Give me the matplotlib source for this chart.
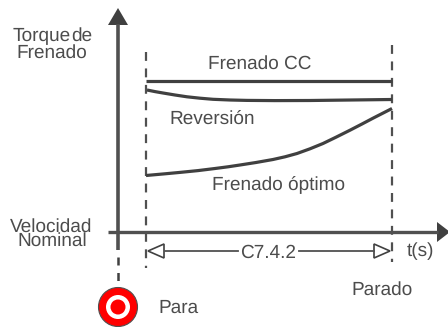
import matplotlib
matplotlib.use("Agg")
import matplotlib.pyplot as plt
from matplotlib.patches import Circle, Polygon

plt.rcParams['font.family'] = ['Liberation Sans', 'DejaVu Sans']
plt.rcParams['text.hinting'] = 'no_hinting'
plt.rcParams['text.hinting_factor'] = 1

# values, in picture pixels
t_cc = [146, 392]
torque_cc = [81, 81]
t_rev = [147, 155, 163, 175, 187, 200, 213, 230, 247, 275, 310, 392]
torque_rev = [90, 91.6, 93, 95, 96.8, 98.2, 99.3, 100, 100.4, 100.6, 100.5, 99.5]
t_opt = [146, 165, 180, 198, 215, 228, 240, 256, 273, 285, 297, 310, 323, 336, 350, 362, 373, 392]
torque_opt = [175.5, 173.8, 172.4, 170.6, 168.5, 166.8, 165, 162.5, 159.5, 156.8, 153.5, 148.8, 143.5, 137.2, 130.2, 124, 118.2, 108.5]

DARK = '#404040'
TEXT = '#4c4c4c'


def main():
    fig = plt.figure(figsize=(4.48, 3.27), dpi=100)
    ax = fig.add_axes([0, 0, 1, 1])
    ax.set_xlim(0, 448)
    ax.set_ylim(327, 0)
    ax.axis('off')

    # axes of the diagram
    ax.plot([118, 118], [24, 250], color='#505050', lw=2.6, solid_capstyle='butt')
    ax.add_patch(Polygon([[118, 8], [128, 25], [108, 25]], color=DARK, lw=0))
    ax.plot([118, 118], [257, 282], color=DARK, lw=1.8, ls=(0, (3.2, 3.0)))
    ax.plot([108, 438], [232, 232], color='#505050', lw=2.4, solid_capstyle='butt')
    ax.add_patch(Polygon([[437, 222], [450, 232], [437, 242]], color=DARK, lw=0))

    # limits
    ax.plot([146, 146], [52, 268], color='#505050', lw=1.6, ls=(0, (4.0, 3.4)))
    ax.plot([392, 392], [45, 262], color='#505050', lw=1.6, ls=(0, (4.0, 3.4)))

    # curves
    ax.plot(t_cc, torque_cc, color=DARK, lw=2.3, solid_capstyle='butt')
    ax.plot(t_rev, torque_rev, color=DARK, lw=2.3, solid_capstyle='butt')
    ax.plot(t_opt, torque_opt, color=DARK, lw=2.3, solid_capstyle='butt')

    # dimension line
    ax.plot([165, 238], [251, 251], color='#505050', lw=1.3)
    ax.plot([299, 374], [251, 251], color='#505050', lw=1.3)
    ax.add_patch(Polygon([[148, 251], [164, 244], [164, 258]], fc='white', ec=DARK, lw=1.2))
    ax.add_patch(Polygon([[390, 251], [374, 244], [374, 258]], fc='white', ec=DARK, lw=1.2))

    # stop button
    ax.add_patch(Circle((118, 307), 19.5, fc='#ff0000', ec='#505050', lw=0.8))
    ax.add_patch(Circle((118, 307), 12, fc='white', lw=0))
    ax.add_patch(Circle((118, 307), 7.5, fc='#ff0000', lw=0))

    def label(x, y, s, size=13.9):
        ax.text(x, y, s, fontsize=size, color=TEXT, ha='center', va='baseline')

    label(42, 41, 'Torque')
    label(81.5, 41, 'de')
    label(52, 58, 'Frenado')
    label(51.5, 232, 'Velocidad')
    label(52, 246, 'Nominal')
    label(259.5, 69, 'Frenado CC')
    label(212, 125, 'Reversión')
    label(278.5, 190, 'Frenado óptimo')
    label(268.5, 258, 'C7.4.2')
    label(420.5, 256, 't(s)')
    label(382.5, 295, 'Parado')
    label(178, 313, 'Para')

    fig.savefig('out.png', dpi=100)


if __name__ == '__main__':
    main()
